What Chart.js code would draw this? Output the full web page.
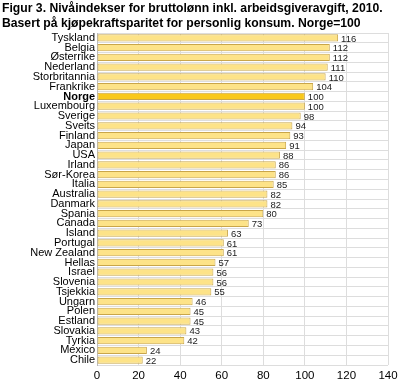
<!DOCTYPE html>
<html><head><meta charset="utf-8">
<script src="https://cdn.jsdelivr.net/npm/chart.js@4"></script>
<style>html,body{margin:0;padding:0;background:#fff}#wrap{width:405px;height:382px}</style>
</head><body><div id="wrap"><canvas id="c" width="405" height="382"></canvas></div>
<script>
const titleLines = ["Figur 3. Nivåindekser for bruttolønn inkl. arbeidsgiveravgift, 2010.", "Basert på kjøpekraftsparitet for personlig konsum. Norge=100"];
const categories = ["Tyskland","Belgia","Østerrike","Nederland","Storbritannia","Frankrike","Norge","Luxembourg","Sverige","Sveits","Finland","Japan","USA","Irland","Sør-Korea","Italia","Australia","Danmark","Spania","Canada","Island","Portugal","New Zealand","Hellas","Israel","Slovenia","Tsjekkia","Ungarn","Polen","Estland","Slovakia","Tyrkia","Mexico","Chile"];
const values = [116,112,112,111,110,104,100,100,98,94,93,91,88,86,86,85,82,82,80,73,63,61,61,57,56,56,55,46,45,45,43,42,24,22];
const xTicks = [0,20,40,60,80,100,120,140];
const highlight = "Norge";

const FONT = "'Liberation Sans', Arial, sans-serif";
const bg = categories.map(c => c === highlight ? "#F9C81A" : "#FDE388");

const titlePlugin = {
  id: 'titleDraw',
  afterDraw(chart) {
    const ctx = chart.ctx;
    ctx.save();
    ctx.font = "bold 12.2px " + FONT;
    ctx.fillStyle = "#000";
    ctx.textBaseline = "alphabetic";
    ctx.textAlign = "left";
    ctx.fillText(titleLines[0], 2, 12);
    ctx.fillText(titleLines[1], 2, 27);
    ctx.restore();
  }
};
const labelPlugin = {
  id: 'valLabels',
  afterDatasetsDraw(chart) {
    const ctx = chart.ctx;
    const meta = chart.getDatasetMeta(0);
    ctx.save();
    ctx.font = "9.5px " + FONT;
    ctx.fillStyle = "#222";
    ctx.textBaseline = "middle";
    ctx.textAlign = "left";
    meta.data.forEach((bar, i) => {
      ctx.fillText(String(values[i]), bar.x + 3, bar.y + 1);
    });
    ctx.restore();
  }
};

new Chart(document.getElementById('c'), {
  type: 'bar',
  data: { labels: categories, datasets: [{ data: values, backgroundColor: bg, borderColor: "#C9A64A", borderWidth: 1, borderSkipped: false, categoryPercentage: 1, barPercentage: 0.74 }] },
  options: {
    indexAxis: 'y', responsive: false, animation: false,
    layout: { padding: { top: 33, right: 17, left: 0, bottom: 0 } },
    plugins: { legend: { display: false }, tooltip: { enabled: false } },
    scales: {
      x: {
        min: 0, max: 140,
        afterBuildTicks(s) { s.ticks = xTicks.map(v => ({ value: v })); },
        afterFit(s) { s.height = 17; },
        grid: { color: "#DDDDDD", drawTicks: false },
        border: { display: false },
        ticks: { padding: 4, color: "#000", font: { family: FONT, size: 11.5 } }
      },
      y: {
        afterFit(s) { s.width = 97; },
        grid: { color: "#DDDDDD", drawTicks: false, offset: true },
        border: { display: true, color: "#BBBBBB" },
        ticks: { padding: 2, color: "#000", autoSkip: false,
          font: (c) => ({ family: FONT, size: 11, weight: categories[c.index] === highlight ? 'bold' : 'normal' }) }
      }
    }
  },
  plugins: [titlePlugin, labelPlugin]
});
</script></body></html>
